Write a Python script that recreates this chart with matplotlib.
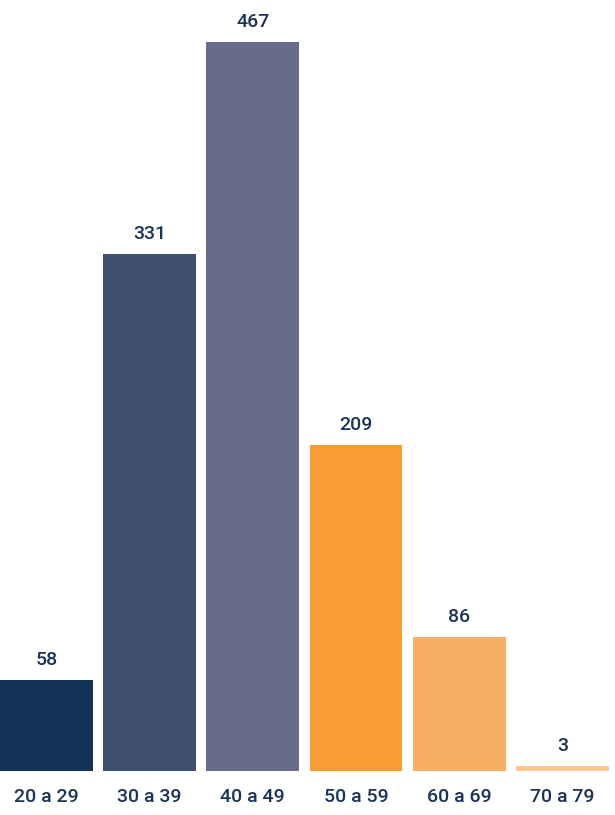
import matplotlib.pyplot as plt

# faixas etárias e contagens
categorias = ["20 a 29", "30 a 39", "40 a 49", "50 a 59", "60 a 69", "70 a 79"]
valores = [58, 331, 467, 209, 86, 3]
cores = ["#143356", "#3f4f70", "#686b8a", "#f89c34", "#f5b066", "#fdc68c"]
cor_texto = "#1a3358"

plt.rcParams['font.family'] = ['Roboto', 'DejaVu Sans']

fig = plt.figure(figsize=(6.15, 8.15), dpi=100)
ax = fig.add_axes([0, 44 / 815, 1, 729 / 815])

x = range(len(categorias))
ax.bar(x, valores, width=0.9, color=cores)

for xi, v in zip(x, valores):
    ax.annotate(str(v), (xi, v), xytext=(0, 8), textcoords="offset points",
                ha="center", va="bottom", fontsize=14, fontweight="medium",
                color=cor_texto)

ax.set_xlim(-0.45, 5.51)
ax.set_ylim(0, 467)
ax.set_xticks(list(x))
ax.set_xticklabels(categorias, fontsize=14, fontweight="medium", color=cor_texto)
ax.tick_params(axis="x", length=0, pad=12)
ax.set_yticks([])
for s in ax.spines.values():
    s.set_visible(False)

fig.savefig("out.png", dpi=100)
